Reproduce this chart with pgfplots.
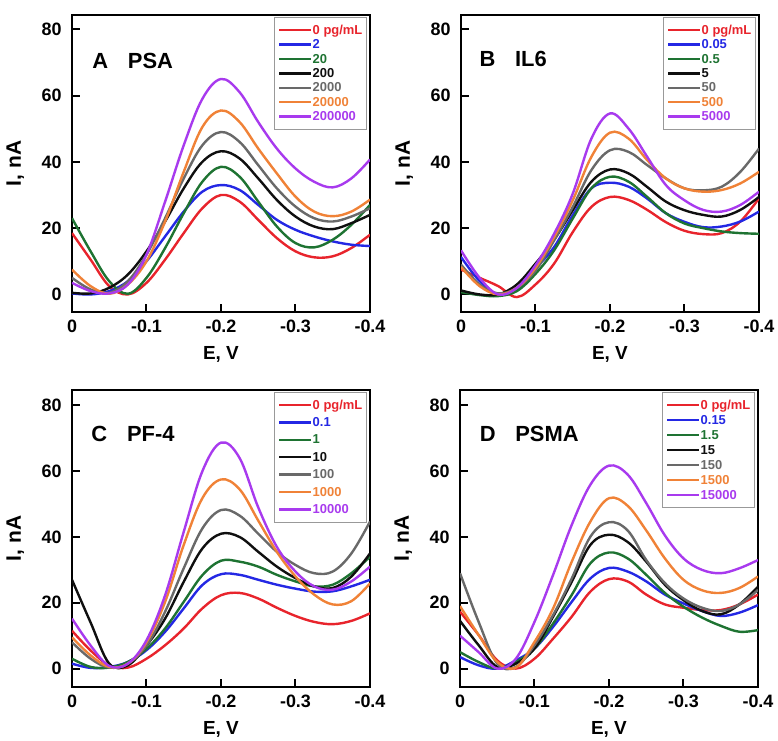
\documentclass[border=0pt]{standalone}
\usepackage{fontspec}
\setmainfont{Liberation Sans}
\usepackage{pgfplots}
\pgfplotsset{compat=1.18}
\usepackage{pgfplotstable}

\definecolor{cred}{RGB}{232,36,44}
\definecolor{cblue}{RGB}{36,40,228}
\definecolor{cgreen}{RGB}{30,115,50}
\definecolor{cblack}{RGB}{15,15,15}
\definecolor{cgray}{RGB}{105,105,105}
\definecolor{corange}{RGB}{240,130,55}
\definecolor{cpurple}{RGB}{168,58,238}

\pgfplotstableread{
x red blue green black gray orange purple
0      18.5 0.3 23.0 0.5 5.0 7.5 3.5
-0.025 10.5 0.0 13.0 0.3 1.5 2.5 1.0
-0.05  2.5 1.0 4.0 2.0 0.5 0.2 0.3
-0.075 0.0 4.0 0.2 6.0 4.0 3.0 3.0
-0.1   3.5 10.0 5.0 13.0 12.0 10.0 12.0
-0.125 10.5 17.5 14.0 22.0 23.0 22.0 28.0
-0.15  18.5 25.0 24.5 32.0 35.0 37.0 45.0
-0.175 26.0 31.0 34.0 40.0 45.0 50.5 59.0
-0.2   30.0 33.0 38.5 43.2 49.0 55.5 65.0
-0.225 28.0 31.5 35.5 41.0 46.0 52.0 61.0
-0.25  22.5 27.0 28.0 35.0 39.0 44.0 52.0
-0.275 17.0 22.5 20.5 28.5 32.0 36.5 44.0
-0.3   13.0 19.5 15.5 23.5 26.5 29.5 38.0
-0.325 11.2 17.5 14.2 20.5 23.0 25.0 34.0
-0.35  11.5 16.0 16.5 19.7 22.0 23.6 32.3
-0.375 14.0 15.0 21.0 21.5 23.5 25.0 35.0
-0.4   18.0 14.6 27.0 24.0 26.0 28.6 40.7
}\tabA

\pgfplotstableread{
x red blue green black gray orange purple
0      7.5 11.3 0.7 1.2 9.0 8.3 13.3
-0.025 5.0 4.0 -0.2 0.0 3.0 2.5 5.0
-0.05  2.5 0.0 -0.5 0.0 0.3 0.0 0.0
-0.075 -0.8 1.5 1.0 3.0 2.0 2.0 2.0
-0.1   3.0 7.8 6.2 9.3 7.2 8.0 8.8
-0.125 9.3 14.3 13.3 16.5 16.3 17.3 18.3
-0.15  18.8 23.9 22.9 25.4 26.4 28.4 30.4
-0.175 26.4 32.0 32.0 34.0 37.5 41.5 47.0
-0.2   29.4 33.7 35.5 37.7 43.5 48.8 54.6
-0.225 28.5 32.5 34.0 36.5 43.0 47.0 50.0
-0.25  25.5 28.9 29.4 32.4 39.0 40.5 41.5
-0.275 21.8 24.5 24.5 28.0 35.0 35.0 33.0
-0.3   19.2 21.9 21.4 25.4 32.0 32.0 28.4
-0.325 18.2 20.3 20.0 24.0 31.4 31.0 25.5
-0.35  18.5 20.5 19.0 23.5 32.5 31.5 25.0
-0.375 22.0 22.0 18.5 25.5 37.0 33.5 27.0
-0.4   29.0 25.0 18.3 29.4 44.0 37.0 31.0
}\tabB

\pgfplotstableread{
x red blue green black gray orange purple
0      11.5 1.5 3.0 27.0 8.0 9.5 15.2
-0.025 5.5 0.2 0.5 14.0 3.0 4.0 7.0
-0.05  1.0 0.5 0.3 1.5 0.3 0.5 0.8
-0.075 0.3 2.0 2.0 1.0 1.5 1.5 1.5
-0.1   3.0 5.6 6.0 7.0 7.0 8.0 8.6
-0.125 7.1 11.2 12.2 15.2 17.3 20.3 22.3
-0.15  12.2 18.3 20.3 26.4 30.5 37.6 41.6
-0.175 18.3 25.4 28.4 36.5 42.6 51.8 60.0
-0.2   22.3 28.7 32.8 41.0 48.2 57.5 68.7
-0.225 23.0 28.5 32.5 40.0 46.5 54.5 64.0
-0.25  21.3 27.0 31.0 35.5 41.0 45.0 49.0
-0.275 18.5 25.5 28.5 31.0 35.5 35.5 37.0
-0.3   16.0 24.3 26.5 27.5 31.5 28.0 29.5
-0.325 14.2 23.4 25.0 25.0 29.0 22.5 25.0
-0.35  13.5 23.5 25.5 24.5 29.5 19.5 24.0
-0.375 14.5 25.0 29.0 28.0 35.0 20.5 26.5
-0.4   16.8 27.0 34.0 35.0 44.7 25.9 31.0
}\tabC

\pgfplotstableread{
x red blue green black gray orange purple
0      17.3 3.5 5.0 14.5 29.0 19.0 10.0
-0.025 10.2 1.0 2.0 7.1 14.2 10.2 5.0
-0.05  2.5 0.0 0.0 0.5 1.5 2.0 0.0
-0.075 0.0 2.5 2.0 1.5 0.5 0.3 3.0
-0.1   3.0 6.1 6.1 6.1 7.1 8.1 14.2
-0.125 9.1 12.7 13.7 15.8 16.3 18.3 28.5
-0.15  15.8 20.3 22.4 26.4 27.4 32.5 43.7
-0.175 23.4 27.4 32.0 37.6 40.1 44.7 55.9
-0.2   27.2 30.6 35.3 40.7 44.5 51.8 61.7
-0.225 26.5 29.5 33.5 38.5 42.0 49.5 59.0
-0.25  22.5 26.5 28.5 32.5 33.0 42.0 50.3
-0.275 19.5 22.5 23.0 25.5 26.0 33.5 40.5
-0.3   18.5 19.8 18.8 20.8 21.3 27.0 33.5
-0.325 17.8 17.5 15.5 17.5 18.5 23.8 30.0
-0.35  17.8 16.0 13.0 16.5 17.5 23.0 29.0
-0.375 19.5 17.0 11.2 19.5 19.5 24.5 30.5
-0.4   22.5 19.3 11.7 24.9 23.9 28.0 33.0
}\tabD

\tikzset{title node/.style={anchor=base west, inner sep=0pt, font=\fontsize{11}{13}\selectfont\bfseries}}

\pgfplotsset{
  panel/.style={
    scale only axis, width=149bp, height=148.5bp,
    xmin=-0.4, xmax=0, x dir=reverse,
    xtick={0,-0.1,-0.2,-0.3,-0.4}, xticklabels={0,-0.1,-0.2,-0.3,-0.4},
    ytick={0,20,40,60,80},
    tick align=inside, xtick pos=bottom, ytick pos=left,
    major tick length=4bp,
    every tick/.style={black, line width=1bp},
    axis line style={line width=1.2bp, black},
    /pgf/number format/assume math mode=true,
    tick label style={font=\fontsize{9}{10}\selectfont\bfseries},
    yticklabel style={inner sep=0pt, anchor=east, xshift=-5bp},
    xticklabel style={inner sep=0pt, anchor=north, yshift=-4bp},
    xlabel={E, V}, ylabel={I, nA},
    xlabel style={font=\fontsize{9.5}{11}\selectfont\bfseries, at={(axis description cs:0.5,0)}, anchor=north, inner sep=0pt, yshift=-17bp},
    ylabel style={font=\fontsize{10.5}{12}\selectfont\bfseries, at={(axis description cs:-0.19,0.5)}, anchor=center, inner sep=0pt},
    legend cell align=left,
    legend image code/.code={\draw[##1, line width=1.2bp] (0bp,0bp) -- (15.8bp,0bp);},
    legend style={at={(rel axis cs:1,1)}, anchor=north east, xshift=-1.5bp, yshift=-1bp,
      draw=gray!80, line width=0.4bp, fill=white,
      font=\fontsize{6.5}{7}\selectfont\bfseries,
      inner xsep=1.8bp, inner ysep=3.5bp,
      nodes={inner sep=0.3bp, text height=4.6bp, text depth=0.5bp}},
  },
  toprow/.style={ymin=-5.3, ymax=84.3},
  botrow/.style={ymin=-5.6, ymax=84.7},
}

\newcommand{\curves}[1]{%
  \addplot[cred,    line width=1.2bp, smooth, tension=0.6] table[x=x,y=red]{#1};
  \addplot[cblue,   line width=1.2bp, smooth, tension=0.6] table[x=x,y=blue]{#1};
  \addplot[cgreen,  line width=1.2bp, smooth, tension=0.6] table[x=x,y=green]{#1};
  \addplot[cblack,  line width=1.2bp, smooth, tension=0.6] table[x=x,y=black]{#1};
  \addplot[cgray,   line width=1.2bp, smooth, tension=0.6] table[x=x,y=gray]{#1};
  \addplot[corange, line width=1.2bp, smooth, tension=0.6] table[x=x,y=orange]{#1};
  \addplot[cpurple, line width=1.2bp, smooth, tension=0.6] table[x=x,y=purple]{#1};
}

\begin{document}
\begin{tikzpicture}
\path[use as bounding box] (0,0) rectangle (389bp,370.5bp);

\begin{axis}[panel, toprow, at={(36bp,214.5bp)}, anchor=south west, legend style={row sep=1.5bp}]
\curves{\tabA}
\legend{\textcolor{cred}{0 pg/mL},\textcolor{cblue}{2},\textcolor{cgreen}{20},\textcolor{cblack}{200},\textcolor{cgray}{2000},\textcolor{corange}{20000},\textcolor{cpurple}{200000}}
\node[title node] at (rel axis cs:0.067,0.8205) {A\hspace{0.9em}PSA};
\end{axis}

\begin{axis}[panel, toprow, at={(230.5bp,214.5bp)}, anchor=south west, legend style={row sep=1.5bp}]
\curves{\tabB}
\legend{\textcolor{cred}{0 pg/mL},\textcolor{cblue}{0.05},\textcolor{cgreen}{0.5},\textcolor{cblack}{5},\textcolor{cgray}{50},\textcolor{corange}{500},\textcolor{cpurple}{5000}}
\node[title node] at (rel axis cs:0.061,0.826) {B\hspace{0.9em}IL6};
\end{axis}

\begin{axis}[panel, botrow, at={(36bp,27bp)}, anchor=south west, legend style={row sep=3bp}]
\curves{\tabC}
\legend{\textcolor{cred}{0 pg/mL},\textcolor{cblue}{0.1},\textcolor{cgreen}{1},\textcolor{cblack}{10},\textcolor{cgray}{100},\textcolor{corange}{1000},\textcolor{cpurple}{10000}}
\node[title node] at (rel axis cs:0.064,0.826) {C\hspace{0.9em}PF-4};
\end{axis}

\begin{axis}[panel, botrow, at={(230bp,27bp)}, anchor=south west, legend style={row sep=1.8bp}]
\curves{\tabD}
\legend{\textcolor{cred}{0 pg/mL},\textcolor{cblue}{0.15},\textcolor{cgreen}{1.5},\textcolor{cblack}{15},\textcolor{cgray}{150},\textcolor{corange}{1500},\textcolor{cpurple}{15000}}
\node[title node] at (rel axis cs:0.065,0.826) {D\hspace{0.9em}PSMA};
\end{axis}
\end{tikzpicture}
\end{document}
